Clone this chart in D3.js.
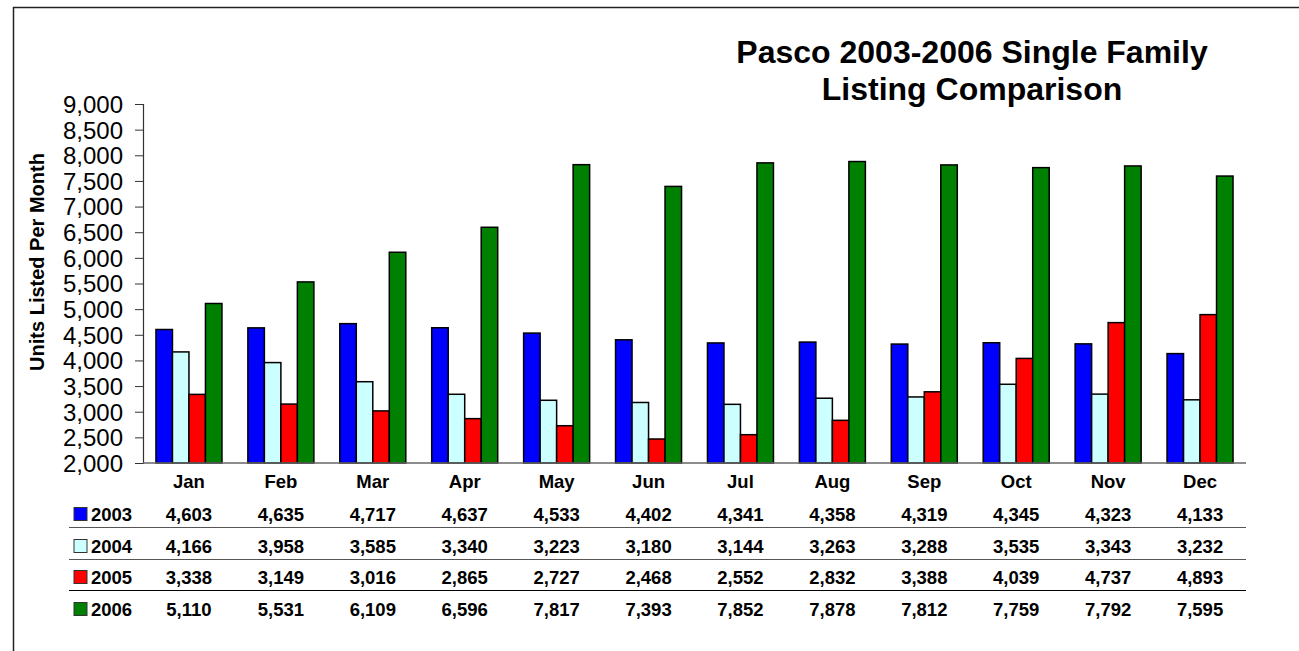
<!DOCTYPE html>
<html><head><meta charset="utf-8">
<script src="https://cdn.jsdelivr.net/npm/d3@7"></script>
<style>body{margin:0;background:#fff;}svg{display:block;font-family:Arial,"Liberation Sans",sans-serif;}</style>
</head><body>
<svg id="c" width="1299" height="651"></svg>
<script>
const months = ["Jan","Feb","Mar","Apr","May","Jun","Jul","Aug","Sep","Oct","Nov","Dec"];
const seriesNames = ["2003","2004","2005","2006"];
const s2003 = [4603,4635,4717,4637,4533,4402,4341,4358,4319,4345,4323,4133];
const s2004 = [4166,3958,3585,3340,3223,3180,3144,3263,3288,3535,3343,3232];
const s2005 = [3338,3149,3016,2865,2727,2468,2552,2832,3388,4039,4737,4893];
const s2006 = [5110,5531,6109,6596,7817,7393,7852,7878,7812,7759,7792,7595];
const colors = ["#0000FF","#CCFFFF","#FF0000","#008000"];
const yTicks = d3.range(2000, 9001, 500);
const titleLines = ["Pasco 2003-2006 Single Family","Listing Comparison"];
const yLabel = "Units Listed Per Month";

const series = [s2003,s2004,s2005,s2006];
const svg = d3.select("#c");

// frame
svg.append("rect").attr("x",13.5).attr("y",7.5).attr("width",1400).attr("height",700)
  .attr("fill","none").attr("stroke","#222").attr("stroke-width",1.5);

const x = d3.scaleBand().domain(months).range([143,1246]).paddingInner(0).paddingOuter(0);
const y = d3.scaleLinear().domain([2000,9000]).range([463,104]);
const groupW = 66;
const xs = d3.scaleBand().domain(seriesNames).range([0,groupW]);

// bars
series.forEach((vals,si)=>{
  svg.append("g").selectAll("rect").data(vals).join("rect")
    .attr("x",(d,i)=>x(months[i]) + (x.bandwidth()-groupW)/2 + xs(seriesNames[si]))
    .attr("y",d=>y(d))
    .attr("width",xs.bandwidth())
    .attr("height",d=>y(2000)-y(d))
    .attr("fill",colors[si]).attr("stroke","#000").attr("stroke-width",1.5);
});

// y axis
const ya = svg.append("g").attr("transform","translate(143,0)")
  .call(d3.axisLeft(y).tickValues(yTicks).tickFormat(d3.format(",")).tickSize(8).tickPadding(12));
ya.select(".domain").attr("stroke","#333").attr("stroke-width",1.2);
ya.selectAll(".tick line").attr("stroke","#333");
ya.selectAll("text").attr("font-size",24).attr("fill","#000").attr("dy","0.35em").attr("font-family","Arial,'Liberation Sans',sans-serif");

// x axis line
svg.append("line").attr("x1",143).attr("x2",1246).attr("y1",463).attr("y2",463)
  .attr("stroke","#666").attr("stroke-width",1.5);

// month labels
svg.append("g").selectAll("text").data(months).join("text")
  .attr("x",d=>x(d)+x.bandwidth()/2).attr("y",488)
  .attr("text-anchor","middle").attr("font-size",18.5).attr("font-weight","bold").text(d=>d);

// data table
const rowY = [514,546,577,609];
const sepY = [527.5,559.5,590.5];
const sepCol = ["#555","#555","#000"];
sepY.forEach((sy,i)=>svg.append("line").attr("x1",69).attr("x2",1246).attr("y1",sy).attr("y2",sy)
  .attr("stroke",sepCol[i]).attr("stroke-width",1.2));
series.forEach((vals,si)=>{
  const g = svg.append("g");
  g.append("rect").attr("x",74).attr("y",rowY[si]-6.5).attr("width",13).attr("height",13)
    .attr("fill",colors[si]).attr("stroke","#333").attr("stroke-width",1);
  g.append("text").attr("x",91).attr("y",rowY[si]).attr("dy","0.36em")
    .attr("font-size",18.5).attr("font-weight","bold").text(seriesNames[si]);
  g.selectAll("text.v").data(vals).join("text").attr("class","v")
    .attr("x",(d,i)=>x(months[i])+x.bandwidth()/2).attr("y",rowY[si]).attr("dy","0.36em")
    .attr("text-anchor","middle").attr("font-size",18.5).attr("font-weight","bold")
    .text(d=>d3.format(",")(d));
});

// title
svg.append("g").selectAll("text").data(titleLines).join("text")
  .attr("x",972).attr("y",(d,i)=>63+i*37).attr("text-anchor","middle")
  .attr("font-size",32).attr("font-weight","bold").text(d=>d);

// y label
svg.append("text").attr("transform","translate(44,262) rotate(-90)")
  .attr("text-anchor","middle").attr("font-size",20).attr("font-weight","bold").text(yLabel);
</script>
</body></html>
